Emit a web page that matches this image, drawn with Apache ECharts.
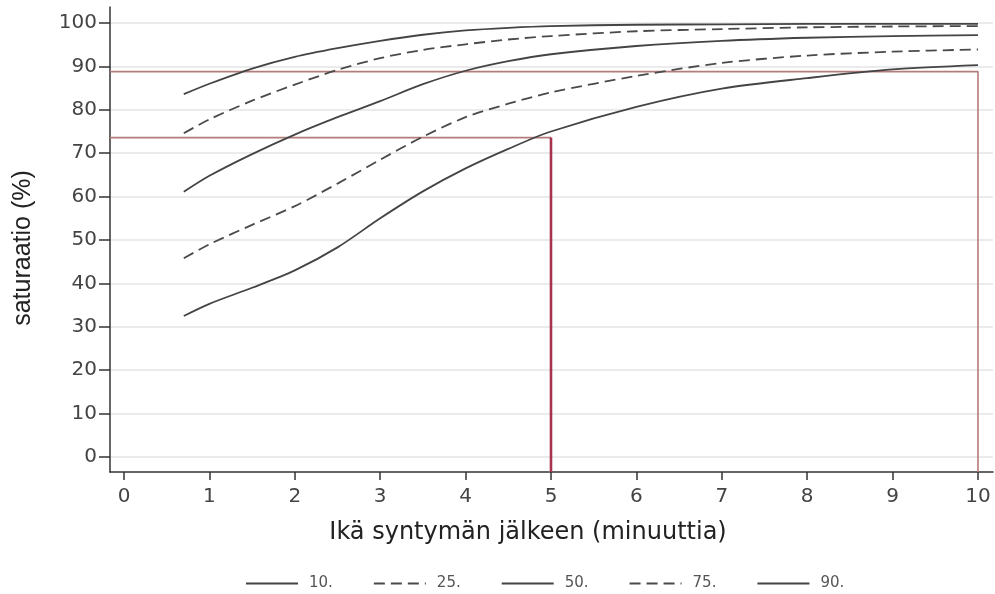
<!DOCTYPE html>
<html><head><meta charset="utf-8">
<script src="https://cdn.jsdelivr.net/npm/echarts@6/dist/echarts.min.js"></script>
<style>html,body{margin:0;padding:0;background:#fff}#c{width:995px;height:594px}</style>
</head><body><div id="c"></div>
<script>
// Age after birth (minutes) at which the percentile curves are sampled
const ages = [0.7, 1, 1.5, 2, 2.5, 3, 3.5, 4, 4.5, 5, 6, 7, 8, 9, 10];
// Saturation (%) percentiles
const p10 = [32.5, 35.3, 39.0, 43.0, 48.3, 55.0, 61.2, 66.5, 71.0, 75.0, 80.7, 84.9, 87.3, 89.3, 90.3];
const p25 = [45.8, 49.0, 53.5, 57.8, 63.0, 68.5, 73.8, 78.3, 81.4, 84.0, 87.8, 90.8, 92.5, 93.4, 93.9];
const p50 = [61.1, 64.8, 69.8, 74.3, 78.3, 82.0, 85.9, 89.0, 91.2, 92.8, 94.7, 95.9, 96.6, 97.0, 97.2];
const p75 = [74.6, 77.8, 82.1, 85.8, 89.2, 91.9, 93.8, 95.1, 96.2, 97.0, 98.1, 98.6, 99.0, 99.2, 99.3];
const p90 = [83.6, 86.0, 89.5, 92.2, 94.2, 95.9, 97.3, 98.3, 98.9, 99.3, 99.6, 99.7, 99.8, 99.8, 99.8];
const seriesNames = ['10.', '25.', '50.', '75.', '90.'];
const xTicks = [0, 1, 2, 3, 4, 5, 6, 7, 8, 9, 10];
const yTicks = [0, 10, 20, 30, 40, 50, 60, 70, 80, 90, 100];
// Reference (target) lines: saturation level reached at given age
const refLevels = [88.8, 73.6];
const refAges = [10, 5];
const xTitle = 'Ikä syntymän jälkeen (minuuttia)';
const yTitle = 'saturaatio (%)';

const X_MIN = -0.164, X_MAX = 10.176, Y_MIN = -3.456, Y_MAX = 103.69;
const values = [p10, p25, p50, p75, p90];
const dashed = [false, true, false, true, false];

const curveSeries = values.map((v, k) => ({
  name: seriesNames[k], type: 'line', smooth: 0.3, symbol: 'none', z: 5,
  data: ages.map((a, i) => [a, v[i]]),
  lineStyle: { color: dashed[k] ? '#4a4a4a' : '#444', width: 1.8, type: dashed[k] ? [11, 6] : 'solid' },
  itemStyle: { color: '#444' }
}));

const refColor = '#b57c7c';
const refSeries = [
  { type: 'line', symbol: 'none', silent: true, z: 3,
    data: [[X_MIN, refLevels[0]], [refAges[0], refLevels[0]], [refAges[0], Y_MIN]],
    lineStyle: { color: refColor, width: 1.6 } },
  { type: 'line', symbol: 'none', silent: true, z: 3,
    data: [[X_MIN, refLevels[1]], [refAges[1], refLevels[1]]],
    lineStyle: { color: refColor, width: 1.6 } },
  { type: 'line', symbol: 'none', silent: true, z: 3,
    data: [[refAges[1], refLevels[1]], [refAges[1], Y_MIN]],
    lineStyle: { color: '#a8344c', width: 2.6 } }
];

const chart = echarts.init(document.getElementById('c'));
chart.setOption({
  animation: false,
  backgroundColor: '#fff',
  grid: { left: 110, right: 2, top: 7, bottom: 122, containLabel: false },
  xAxis: {
    type: 'value', min: X_MIN, max: X_MAX,
    axisLine: { show: true, onZero: false, lineStyle: { color: '#333', width: 1.5 } },
    axisTick: { show: true, length: 8, customValues: xTicks, lineStyle: { color: '#333', width: 1.5 } },
    axisLabel: { customValues: xTicks, fontFamily: 'DejaVu Sans', fontSize: 20, color: '#444', margin: 15 },
    splitLine: { show: false }
  },
  yAxis: {
    type: 'value', min: Y_MIN, max: Y_MAX,
    axisLine: { show: true, onZero: false, lineStyle: { color: '#333', width: 1.5 } },
    axisTick: { show: true, length: 11, customValues: yTicks, lineStyle: { color: '#333', width: 1.5 } },
    axisLabel: { customValues: yTicks, fontFamily: 'DejaVu Sans', fontSize: 20, color: '#444', margin: 13 },
    splitLine: { show: true, lineStyle: { color: '#e4e4e4', width: 1.5 } }
  },
  legend: {
    data: seriesNames, left: 245, top: 576, padding: 0, itemWidth: 52, itemHeight: 14, itemGap: 40,
    itemStyle: { opacity: 0 },
    textStyle: { fontFamily: 'DejaVu Sans', fontSize: 15, color: '#555', padding: [0, 0, 0, 6] }
  },
  graphic: [
    { type: 'text', x: 528, y: 533, style: { text: xTitle, font: '24px "DejaVu Sans"', fill: '#222', align: 'center', verticalAlign: 'middle' } },
    { type: 'text', x: 23.5, y: 248, rotation: Math.PI / 2, style: { text: yTitle, font: '25px "Liberation Sans"', fill: '#222', align: 'center', verticalAlign: 'middle' } }
  ],
  series: refSeries.concat(curveSeries)
});
</script></body></html>
